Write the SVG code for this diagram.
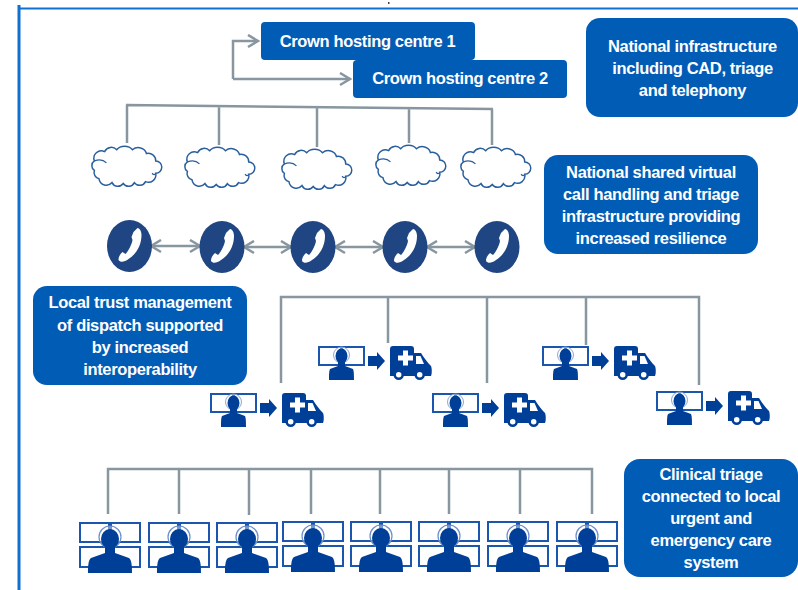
<svg xmlns="http://www.w3.org/2000/svg" width="798" height="590" viewBox="0 0 798 590">
<style>
.box{fill:#015cb5}
.t{fill:#fff;font-family:"Liberation Sans",Arial,sans-serif;font-weight:700;font-size:16.5px;letter-spacing:-.35px;text-anchor:middle}
.c{fill:none;stroke:#87969f;stroke-width:2.5}
.a{fill:none;stroke:#87969f;stroke-width:2.5;marker-end:url(#ah)}
.d{fill:none;stroke:#87969f;stroke-width:2.5;marker-start:url(#ahs);marker-end:url(#ah)}
.m{fill:#fff;stroke:#1a56ad;stroke-width:2}
.p{fill:#003f98}
</style>
<defs>
<marker id="ah" markerUnits="userSpaceOnUse" markerWidth="14" markerHeight="16" refX="11" refY="7" orient="auto"><path d="M1 1L11 7L1 13" fill="none" stroke="#87969f" stroke-width="2.5"/></marker>
<marker id="ahs" markerUnits="userSpaceOnUse" markerWidth="14" markerHeight="16" refX="3" refY="7" orient="auto"><path d="M13 1L3 7L13 13" fill="none" stroke="#87969f" stroke-width="2.5"/></marker>
<g id="cloud">
<g transform="translate(2.500 2) scale(.93 .94)">
<path d="M2 17A8 8 0 0 1 13 7A8 8 0 0 1 26 5A10 8 0 0 1 43 5A9 8 0 0 1 58 9A8 8 0 0 1 68 17A6 6 0 0 1 68 30A8 8 0 0 1 57 39A7 7 0 0 1 45 40A7 7 0 0 1 33 41A7 7 0 0 1 21 40A8 8 0 0 1 7 36A7 7 0 0 1 2 27A6 6 0 0 1 2 17Z" fill="#fff" stroke="#2a5f9e" stroke-width="1.600"/>
<path d="M2 17C7 15 12 16 15 19M64 30C66 32 67 32 68 30" fill="none" stroke="#2a5f9e" stroke-width="1.400"/>
</g>
</g>
<g id="phone">
<ellipse cx="0" cy="0" rx="22.500" ry="26" fill="#1f4583"/>
<path d="M4-14L8-18C10-18 12-15 12-11C12-1 7 8-1 13C-5 16-9 17-11 14C-11 11-10 9-7 6L-4 8C-1 5 2-1 3-6L2-9Z" fill="#fff"/>
</g>
<g id="agent">
<rect class="m" x="1" y="1" width="22" height="18"/>
<rect class="m" x="24" y="1" width="22" height="18"/>
<circle cx="23.500" cy="9" r="8" fill="#fff" fill-opacity=".4" stroke="#8fa9d0" stroke-width="1"/>
<ellipse class="p" cx="23.500" cy="10" rx="6" ry="7.500"/>
<path class="p" d="M20 15H27V20L35 23C36 25 36 30 36 34H11C11 30 11 25 12 23L20 20Z"/>
</g>
<g id="dispatch">
<use href="#agent"/>
<path class="p" d="M50 10H59V6L67 15L59 24V20H50Z"/>
<path class="p" d="M72 3C72 1 73 0 75 0H93C95 0 96 1 96 3V7H103C106 12 110 17 113 20C114 22 114 28 113 30H72Z"/>
<path fill="#fff" d="M80 9.500H85V4.500H90V9.500H95V14.500H90V19.500H85V14.500H80Z"/>
<path fill="#fff" d="M98 10H102.500L106 18H98Z"/>
<circle cx="80.700" cy="28.700" r="4" fill="#fff" stroke="#003f98" stroke-width="2.500"/>
<circle cx="101.700" cy="28.700" r="4" fill="#fff" stroke="#003f98" stroke-width="2.500"/>
</g>
<g id="triage">
<rect class="m" x="1" y="1" width="29" height="19"/>
<rect class="m" x="32" y="1" width="29" height="19"/>
<rect class="m" x="1" y="25" width="29" height="20"/>
<rect class="m" x="32" y="25" width="29" height="20"/>
<circle cx="31" cy="15" r="11" fill="#fff" fill-opacity=".4" stroke="#6c8fc8" stroke-width="1.200"/>
<ellipse class="p" cx="31" cy="17" rx="9" ry="10"/>
<path class="p" d="M26 24H36V31L50 36C53 38 53 46 53 51H9C9 46 9 38 12 36L26 31Z"/>
</g>
</defs>

<g id="frame" fill="none" stroke="#0f70cf">
<path d="M19 5V590" stroke-width="3"/>
<path d="M18 8.500H798" stroke-width="2"/>
<rect x="388" y="2" width="1.500" height="2" fill="#444" stroke="none"/>
</g>

<g id="connectors">
<path class="a" d="M233 79V41H258"/>
<path class="a" d="M233 79H350"/>
<path class="c" d="M126 105L493 109M127 105V143M219 106V145M317 107V147M409 108V143M492 109V145"/>
<path class="d" d="M151 246H200"/>
<path class="d" d="M244 247H291"/>
<path class="d" d="M335 247H383"/>
<path class="d" d="M427 247H475"/>
<path class="c" d="M281 383V297H699V385M388 297V343M487 297V383M586 297V345"/>
<path class="c" d="M108 514V469H592V514M179 469V514M249 469V515M311 469V514M380 469V514M449 469V514M520 469V514"/>
</g>

<g id="crown1"><rect class="box" x="261" y="22" width="214" height="38" rx="4"/><text class="t" x="367.500" y="47">Crown hosting centre 1</text></g>
<g id="crown2"><rect class="box" x="353" y="60" width="214" height="38" rx="4"/><text class="t" x="460" y="84">Crown hosting centre 2</text></g>
<g id="national-infra"><rect class="box" x="586" y="18" width="212" height="99" rx="14"/><text class="t" x="692.500" y="52">National infrastructure</text><text class="t" x="692.500" y="74">including CAD, triage</text><text class="t" x="692.500" y="96">and telephony</text></g>
<g id="national-shared"><rect class="box" x="544" y="155" width="214" height="99" rx="14"/><text class="t" x="651" y="178">National shared virtual</text><text class="t" x="651" y="200">call handling and triage</text><text class="t" x="651" y="222">infrastructure providing</text><text class="t" x="651" y="244">increased resilience</text></g>
<g id="local-trust"><rect class="box" x="33" y="286" width="214" height="99" rx="14"/><text class="t" x="140" y="308">Local trust management</text><text class="t" x="140" y="331">of dispatch supported</text><text class="t" x="140" y="353">by increased</text><text class="t" x="140" y="375">interoperability</text></g>
<g id="clinical"><rect class="box" x="624" y="459" width="174" height="118" rx="16"/><text class="t" x="711" y="480">Clinical triage</text><text class="t" x="711" y="502">connected to local</text><text class="t" x="711" y="524">urgent and</text><text class="t" x="711" y="546">emergency care</text><text class="t" x="711" y="568">system</text></g>

<g id="cloud1"><use href="#cloud" x="90" y="143"/></g>
<g id="cloud2"><use href="#cloud" x="183" y="144"/></g>
<g id="cloud3"><use href="#cloud" x="280" y="146"/></g>
<g id="cloud4"><use href="#cloud" x="374" y="142"/></g>
<g id="cloud5"><use href="#cloud" x="459" y="144"/></g>

<g id="phone1"><use href="#phone" x="129.500" y="246"/></g>
<g id="phone2"><use href="#phone" x="222" y="247"/></g>
<g id="phone3"><use href="#phone" x="313" y="247"/></g>
<g id="phone4"><use href="#phone" x="405" y="247"/></g>
<g id="phone5"><use href="#phone" x="497" y="247"/></g>

<g id="dispatch1"><use href="#dispatch" x="210" y="393"/></g>
<g id="dispatch2"><use href="#dispatch" x="318" y="346"/></g>
<g id="dispatch3"><use href="#dispatch" x="432" y="393"/></g>
<g id="dispatch4"><use href="#dispatch" x="542" y="346"/></g>
<g id="dispatch5"><use href="#dispatch" x="656" y="391"/></g>

<g id="triage1"><use href="#triage" x="79" y="522"/></g>
<g id="triage2"><use href="#triage" x="148" y="522"/></g>
<g id="triage3"><use href="#triage" x="216" y="522"/></g>
<g id="triage4"><use href="#triage" x="282" y="521"/></g>
<g id="triage5"><use href="#triage" x="350" y="521"/></g>
<g id="triage6"><use href="#triage" x="418" y="521"/></g>
<g id="triage7"><use href="#triage" x="487" y="521"/></g>
<g id="triage8"><use href="#triage" x="556" y="521"/></g>
</svg>
